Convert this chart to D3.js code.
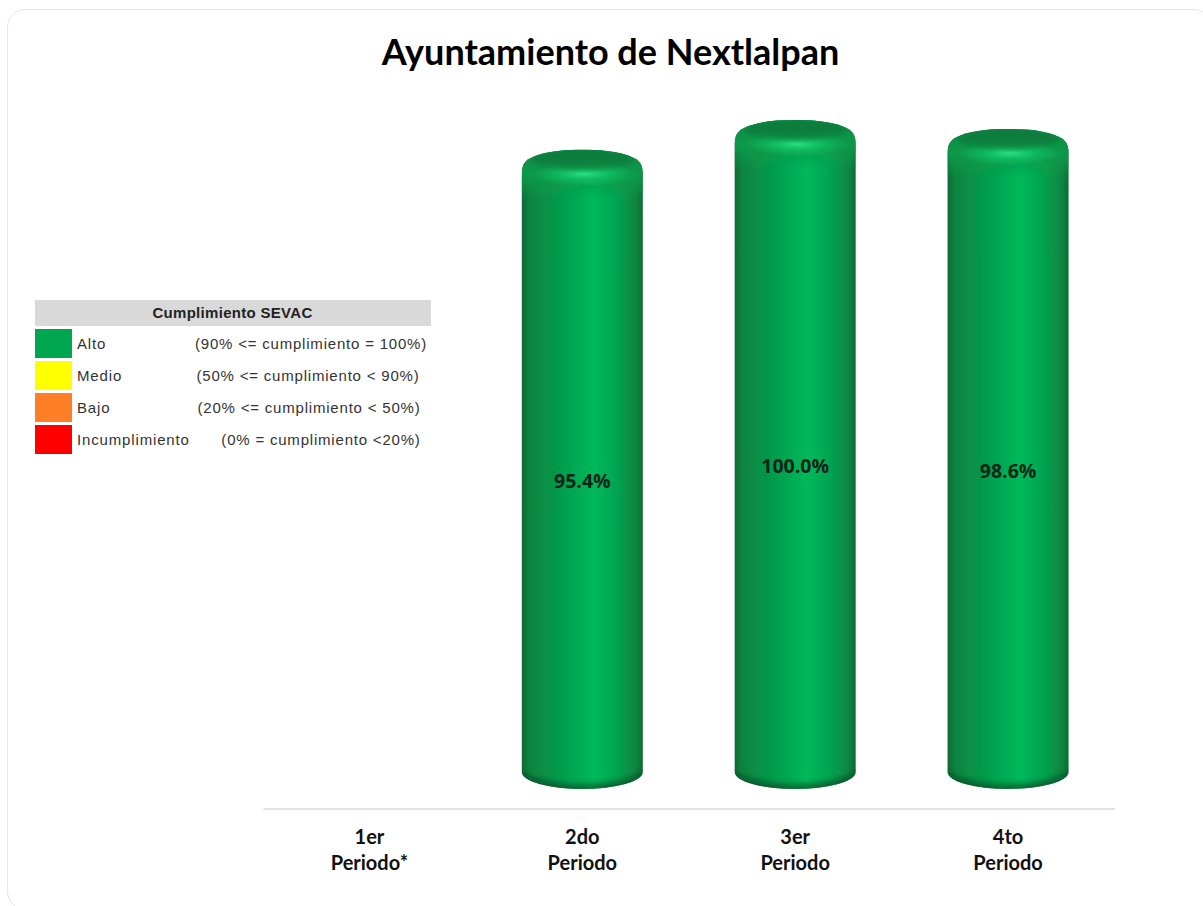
<!DOCTYPE html>
<html>
<head>
<meta charset="utf-8">
<script src="https://cdn.jsdelivr.net/npm/d3@7"></script>
<style>
  html, body { margin: 0; padding: 0; background: #fff; }
  svg { display: block; }
</style>
</head>
<body>
<div id="chart"></div>
<script>
var periods = ["1er|Periodo*", "2do|Periodo", "3er|Periodo", "4to|Periodo"];
var values = [null, 95.4, 100.0, 98.6];

var legendTitle = "Cumplimiento SEVAC";
var legendNames = ["Alto", "Medio", "Bajo", "Incumplimiento"];
var legendRanges = ["(90% <= cumplimiento = 100%)", "(50% <= cumplimiento < 90%)", "(20% <= cumplimiento < 50%)", "(0% = cumplimiento <20%)"];
var legendColors = ["#00a650", "#ffff00", "#ff7f27", "#ff0000"];

var width = 1203, height = 906;

var svg = d3.select("#chart").append("svg")
  .attr("width", width)
  .attr("height", height);

var defs = svg.append("defs");

var sideGrad = defs.append("linearGradient").attr("id", "side");
[[0, "#0a6a33"], [0.06, "#0a8340"], [0.3, "#059a4b"], [0.6, "#00b95b"], [0.8, "#05a24f"], [0.95, "#0a8340"], [1, "#0a6a33"]]
  .forEach(function(s) {
    sideGrad.append("stop").attr("offset", s[0]).attr("stop-color", s[1]);
  });

// shoulder of the cylinder fades into the body
var topGrad = defs.append("linearGradient").attr("id", "top")
  .attr("x1", 0).attr("y1", 0).attr("x2", 0).attr("y2", 1);
[[0, "#0a8a43", 1], [0.5, "#0a9a4b", 0.95], [1, "#0a9a4b", 0]]
  .forEach(function(s) {
    topGrad.append("stop").attr("offset", s[0]).attr("stop-color", s[1]).attr("stop-opacity", s[2]);
  });

var glow = defs.append("radialGradient").attr("id", "glow");
[[0, "#2ee085", 1], [0.45, "#14c66a", 0.75], [1, "#12c468", 0]]
  .forEach(function(s) {
    glow.append("stop").attr("offset", s[0]).attr("stop-color", s[1]).attr("stop-opacity", s[2]);
  });

var faceGrad = defs.append("linearGradient").attr("id", "face")
  .attr("x1", 0).attr("y1", 0).attr("x2", 0).attr("y2", 1);
[[0, "#0a7a3b"], [0.6, "#0a7f3e"], [1, "#0a9248"]]
  .forEach(function(s) {
    faceGrad.append("stop").attr("offset", s[0]).attr("stop-color", s[1]);
  });

defs.append("filter").attr("id", "soft")
  .append("feGaussianBlur").attr("stdDeviation", 0.7);
defs.append("filter").attr("id", "blur2")
  .attr("x", "-20%").attr("y", "-50%").attr("width", "140%").attr("height", "200%")
  .append("feGaussianBlur").attr("stdDeviation", 2.2);
defs.append("filter").attr("id", "blur3")
  .attr("x", "-20%").attr("y", "-80%").attr("width", "140%").attr("height", "260%")
  .append("feGaussianBlur").attr("stdDeviation", 3);

// card outline
svg.append("rect")
  .attr("x", 7.5).attr("y", 9.5)
  .attr("width", 1204).attr("height", 900)
  .attr("rx", 18)
  .attr("fill", "none")
  .attr("stroke", "#e6e6e6");

svg.append("text")
  .attr("x", 610.5).attr("y", 65)
  .attr("text-anchor", "middle")
  .attr("font-family", "Lato")
  .attr("font-weight", 700)
  .attr("font-size", 36)
  .attr("fill", "#000")
  .text("Ayuntamiento de Nextlalpan");

var x = d3.scaleBand().domain(periods).range([263, 1114.5]);
var y = d3.scaleLinear().domain([0, 100]).range([778, 131]);

var barData = periods.map(function(p, i) { return { p: p, v: values[i] }; })
  .filter(function(d) { return d.v != null; });

var bw = 121, r = bw / 2;

var bars = svg.selectAll("g.bar")
  .data(barData)
  .enter().append("g")
  .attr("class", "bar")
  .attr("filter", "url(#soft)")
  .attr("transform", function(d) { return "translate(" + (x(d.p) + x.bandwidth() / 2) + ",0)"; });

// silhouette: rounded shoulder on top, wide elliptical foot
function bodyPath(d) {
  var t = y(d.v) - 11, b = y(0) - 6;
  return "M" + (-r) + "," + (t + 24) +
    "L" + (-r) + "," + b +
    "A" + r + ",17 0 0 0 " + r + "," + b +
    "L" + r + "," + (t + 24) +
    "C" + r + "," + (t + 12) + " " + (r - 6) + "," + (t + 9) + " " + (r - 14) + "," + (t + 6) +
    "C" + (r - 28) + "," + (t + 1) + " " + (r - 44) + "," + t + " 0," + t +
    "C" + (44 - r) + "," + t + " " + (28 - r) + "," + (t + 1) + " " + (14 - r) + "," + (t + 6) +
    "C" + (6 - r) + "," + (t + 9) + " " + (-r) + "," + (t + 12) + " " + (-r) + "," + (t + 24) + "Z";
}

bars.append("path").attr("d", bodyPath).attr("fill", "url(#side)");

bars.append("clipPath")
  .attr("id", function(d, i) { return "clip" + i; })
  .append("path").attr("d", bodyPath);

var inner = bars.append("g")
  .attr("clip-path", function(d, i) { return "url(#clip" + i + ")"; });

inner.append("rect")
  .attr("x", -r).attr("width", bw)
  .attr("y", function(d) { return y(d.v) - 11; })
  .attr("height", 50)
  .attr("fill", "url(#top)");

// highlight under the top face
inner.append("ellipse")
  .attr("cx", 2).attr("cy", function(d) { return y(d.v) + 13; })
  .attr("rx", 52).attr("ry", 12)
  .attr("fill", "url(#glow)");

// darker top face, sits over the highlight so only a crescent shows
inner.append("ellipse")
  .attr("cx", 0).attr("cy", function(d) { return y(d.v) - 1; })
  .attr("rx", 50).attr("ry", 10)
  .attr("fill", "url(#face)")
  .attr("filter", "url(#blur2)");

// dark crescent along the foot
inner.append("path")
  .attr("d", function(d) {
    var b = y(0) - 6;
    return "M" + (-r) + "," + (b - 4) + "L" + (-r) + "," + (b + 20) +
      "L" + r + "," + (b + 20) +
      "L" + r + "," + (b - 4) + "A" + r + ",17 0 0 1 " + (-r) + "," + (b - 4) + "Z";
  })
  .attr("fill", "#07572a")
  .attr("filter", "url(#blur3)");

svg.selectAll("text.val")
  .data(barData)
  .enter().append("text")
  .attr("class", "val")
  .attr("x", function(d) { return x(d.p) + x.bandwidth() / 2; })
  .attr("y", function(d) { return (y(d.v) + y(0)) / 2 + 18.5; })
  .attr("text-anchor", "middle")
  .attr("font-family", "Open Sans")
  .attr("font-weight", 700)
  .attr("font-size", 19.5)
  .attr("fill", "#0d2417")
  .text(function(d) { return d.v.toFixed(1) + "%"; });

// axis
var axis = svg.append("g")
  .attr("transform", "translate(0,808.5)")
  .call(d3.axisBottom(x).tickSize(0).tickFormat(""));
axis.select(".domain").attr("stroke", "#d9d9d9").attr("stroke-width", 1.5);
axis.selectAll(".tick text").remove();

var tickLabels = svg.selectAll("text.period")
  .data(periods)
  .enter().append("text")
  .attr("class", "period")
  .attr("text-anchor", "middle")
  .attr("font-family", "Lato")
  .attr("font-weight", 700)
  .attr("font-size", 20)
  .attr("fill", "#111");

tickLabels.selectAll("tspan")
  .data(function(d) { return d.split("|").map(function(t) { return { t: t, p: d }; }); })
  .enter().append("tspan")
  .attr("x", function(d) { return x(d.p) + x.bandwidth() / 2; })
  .attr("y", function(d, i) { return i == 0 ? 843.5 : 869.5; })
  .text(function(d) { return d.t; });

// legend
var legend = svg.append("g");
legend.append("rect")
  .attr("x", 35).attr("y", 300).attr("width", 396).attr("height", 26)
  .attr("fill", "#d9d9d9");
legend.append("text")
  .attr("x", 232.5).attr("y", 318)
  .attr("text-anchor", "middle")
  .attr("font-family", "Liberation Sans")
  .attr("font-weight", 700)
  .attr("font-size", 15)
  .attr("letter-spacing", 0.3)
  .attr("fill", "#222")
  .text(legendTitle);

var rowY = d3.scaleBand().domain(legendNames).range([326, 454]);
var rangeCenters = [311, 308, 309, 321];

var rows = legend.selectAll("g.row")
  .data(legendNames)
  .enter().append("g")
  .attr("class", "row");

rows.append("rect")
  .attr("x", 35).attr("y", function(d) { return rowY(d) + 3; })
  .attr("width", 37).attr("height", rowY.bandwidth() - 3)
  .attr("fill", function(d, i) { return legendColors[i]; });

rows.append("text")
  .attr("x", 77).attr("y", function(d) { return rowY(d) + 23; })
  .attr("font-family", "Liberation Sans")
  .attr("font-size", 15)
  .attr("letter-spacing", 0.85)
  .attr("fill", "#333")
  .text(function(d) { return d; });

rows.append("text")
  .attr("x", function(d, i) { return rangeCenters[i]; })
  .attr("y", function(d) { return rowY(d) + 23; })
  .attr("text-anchor", "middle")
  .attr("font-family", "Liberation Sans")
  .attr("font-size", 15)
  .attr("letter-spacing", 0.8)
  .attr("fill", "#333")
  .text(function(d, i) { return legendRanges[i]; });
</script>
</body>
</html>
